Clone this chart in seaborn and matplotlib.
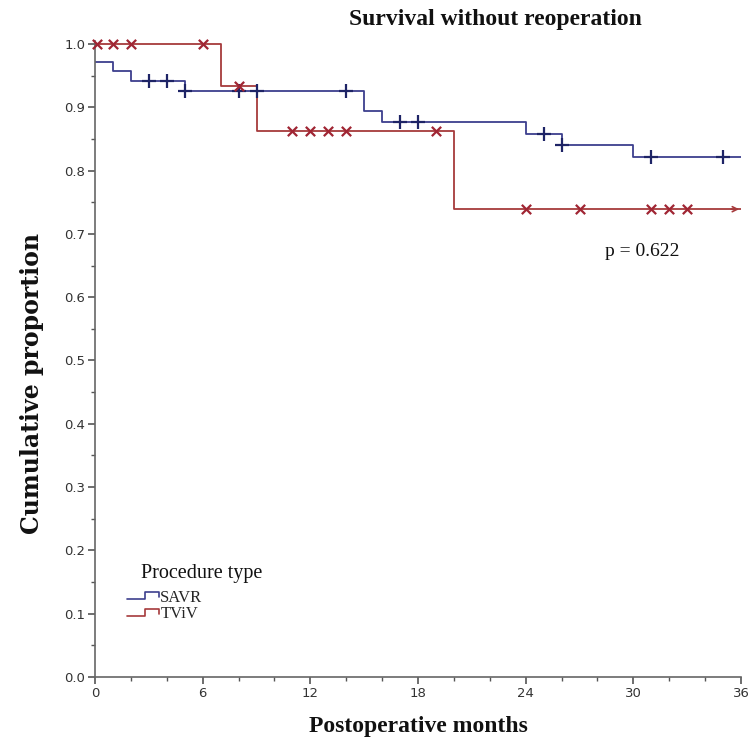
import numpy as np
import pandas as pd
import matplotlib
matplotlib.use("Agg")
import matplotlib.pyplot as plt
import seaborn as sns
from matplotlib.legend_handler import HandlerBase
from matplotlib.lines import Line2D
from matplotlib.ticker import MultipleLocator, FormatStrFormatter

# ---------------- data ----------------
groups = ["SAVR", "TViV"]
savr_times = [0, 1, 2, 5, 15, 16, 24, 26, 30, 36]
savr_surv = [0.972, 0.957, 0.941, 0.926, 0.894, 0.876, 0.858, 0.840, 0.822, 0.822]
savr_cens = [3, 4, 5, 8, 9, 14, 17, 18, 25, 26, 31, 35]

tviv_times = [0, 7, 9, 20, 36]
tviv_surv = [1.0, 0.934, 0.862, 0.739, 0.739]
tviv_cens = [0.1, 1, 2, 6, 8, 11, 12, 13, 14, 19, 24, 27, 31, 32, 33]

x_ticks = [0, 6, 12, 18, 24, 30, 36]
y_ticks = [0.0, 0.1, 0.2, 0.3, 0.4, 0.5, 0.6, 0.7, 0.8, 0.9, 1.0]
p_text = "p = 0.622"

colors = {"SAVR": "#3d3f8e", "TViV": "#a63a3c"}
mcolors = {"SAVR": "#1e2466", "TViV": "#a02533"}


def step_value(times, surv, t):
    idx = np.searchsorted(times, t, side="right") - 1
    return surv[max(idx, 0)]


curve_df = pd.concat([
    pd.DataFrame({"time": savr_times, "surv": savr_surv, "group": "SAVR"}),
    pd.DataFrame({"time": tviv_times, "surv": tviv_surv, "group": "TViV"}),
], ignore_index=True)

cens_savr = pd.DataFrame({"time": savr_cens,
                          "surv": [step_value(savr_times, savr_surv, t) for t in savr_cens]})
cens_tviv = pd.DataFrame({"time": tviv_cens,
                          "surv": [step_value(tviv_times, tviv_surv, t) for t in tviv_cens]})

# ---------------- figure ----------------
sns.set_theme(style="white")
plt.rcParams["font.family"] = ["Liberation Serif", "DejaVu Serif"]

fig = plt.figure(figsize=(7.55, 7.44), dpi=100)
ax = fig.add_axes([95 / 755, 1 - 677 / 744, 646 / 755, (677 - 40.8) / 744])

sns.lineplot(data=curve_df, x="time", y="surv", hue="group", palette=colors,
             drawstyle="steps-post", estimator=None, sort=False, units="group",
             legend=False, linewidth=1.3, ax=ax)

sns.scatterplot(data=cens_savr, x="time", y="surv", marker="+", color=mcolors["SAVR"],
                s=110, linewidth=1.6, ax=ax, zorder=5, clip_on=False)
sns.scatterplot(data=cens_tviv, x="time", y="surv", marker="x", color=mcolors["TViV"],
                s=45, linewidth=1.6, ax=ax, zorder=5, clip_on=False)

# arrow at end of TViV curve
ax.annotate("", xy=(36.05, tviv_surv[-1]), xytext=(35.3, tviv_surv[-1]),
            arrowprops=dict(arrowstyle="->", color=colors["TViV"], lw=1.2,
                            mutation_scale=9), annotation_clip=False)

ax.set_xlim(0, 36)
ax.set_ylim(0, 1.005)
ax.xaxis.set_major_locator(plt.FixedLocator(x_ticks))
ax.xaxis.set_minor_locator(MultipleLocator(2))
ax.yaxis.set_major_locator(plt.FixedLocator(y_ticks))
ax.yaxis.set_minor_locator(MultipleLocator(0.05))
ax.yaxis.set_major_formatter(FormatStrFormatter("%.1f"))

for s in ["top", "right"]:
    ax.spines[s].set_visible(False)
for s in ["left", "bottom"]:
    ax.spines[s].set_color("#666666")
    ax.spines[s].set_linewidth(1.2)

ax.tick_params(axis="both", which="major", direction="out", length=5, width=1.2,
               color="#555555", labelsize=9.5, labelcolor="#333333", pad=2)
ax.tick_params(axis="both", which="minor", direction="out", length=3, width=1.0,
               color="#555555")
ax.tick_params(axis="both", which="both", bottom=True, left=True)
for lab in ax.get_xticklabels() + ax.get_yticklabels():
    lab.set_family(["DejaVu Sans"])

ax.set_xlabel("Postoperative months", fontsize=17, fontweight="bold", labelpad=12,
              color="#111111")
ax.set_ylabel("Cumulative proportion", fontsize=17, fontweight="bold",
              color="#111111", family=["DejaVu Serif"])
ax.yaxis.set_label_coords(-0.079, 0.461)

fig.text(495 / 755, 1 - 20 / 744, "Survival without reoperation", ha="center", va="center",
         fontsize=17, fontweight="bold", color="#111111")

ax.text(30.5, 0.672, p_text, ha="center", va="center", fontsize=14, color="#111111")


# legend with step-shaped handles
class StepHandler(HandlerBase):
    def create_artists(self, legend, orig_handle, xdescent, ydescent, width, height,
                       fontsize, trans):
        w, h = width, height
        xs = np.array([0, 0.55, 0.55, 0.95, 0.95]) * w - xdescent
        ys = np.array([0.2, 0.2, 0.8, 0.8, 0.35]) * h - ydescent
        line = Line2D(xs, ys, color=orig_handle.get_color(), lw=1.2, transform=trans)
        return [line]


handles = [Line2D([], [], color=colors[g]) for g in groups]
leg = ax.legend(handles, groups, loc="upper left",
                bbox_to_anchor=((127 - 95) / 646, (677 - 590) / 633), frameon=False,
                fontsize=12, handlelength=2.0, handletextpad=0.0,
                labelspacing=0.05, borderpad=0, borderaxespad=0,
                handler_map={Line2D: StepHandler()})
ax.text((141 - 95) / 646, (677 - 574) / 633, "Procedure type", transform=ax.transAxes,
        ha="left", va="center", fontsize=14.5, color="#111111")

fig.savefig("out.png", dpi=100, facecolor="white")
